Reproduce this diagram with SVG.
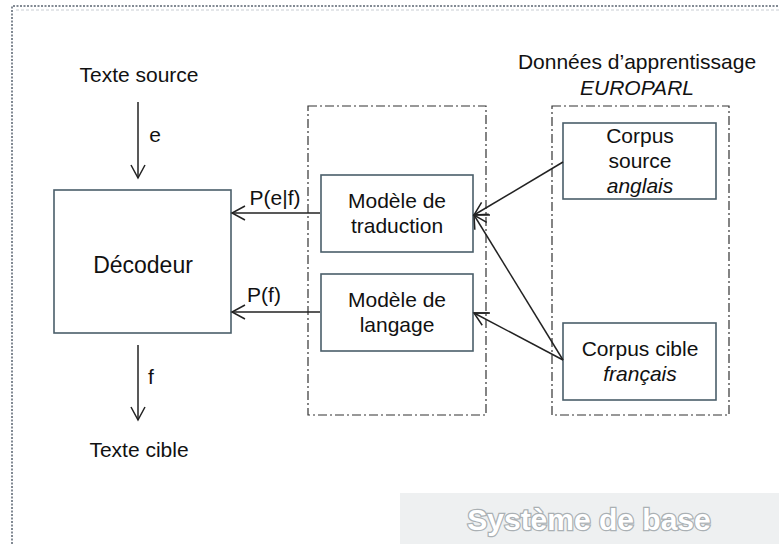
<svg xmlns="http://www.w3.org/2000/svg" width="779" height="544" viewBox="0 0 779 544">
<defs>
<style>
text{font-family:"Liberation Sans",Arial,sans-serif;fill:#111;font-size:21px;text-anchor:middle}
.it{font-style:italic}
.big{font-size:23px}
.title{font-size:30px;font-weight:bold;fill:#fff;stroke:#aab0b4;stroke-width:2.5px;paint-order:stroke}
.box{fill:#fff;stroke:#4a5e6a;stroke-width:1.6}
.grp{fill:none;stroke:#333;stroke-width:1.2;stroke-dasharray:9,3,2,3}
.ln{fill:none;stroke:#222;stroke-width:1.5}
</style>
<marker id="ah" viewBox="-14 -8 16 16" refX="0" refY="0" markerWidth="16" markerHeight="16" markerUnits="userSpaceOnUse" orient="auto">
<path d="M-13,-7 L0,0 L-13,7" fill="none" stroke="#222" stroke-width="1.5"/>
</marker>
</defs>
<rect width="779" height="544" fill="#fff"/>
<path d="M12,544 V6 H779" fill="none" stroke="#5a6470" stroke-width="1.5" stroke-dasharray="2,1.5"/>
<path d="M16,10 H779" fill="none" stroke="#c9ced3" stroke-width="1" stroke-dasharray="3,2"/>

<g id="texte-source"><text x="139" y="82">Texte source</text></g>
<g id="texte-cible"><text x="139" y="457">Texte cible</text></g>
<g id="donnees"><text x="637" y="69">Données d’apprentissage</text><text class="it" x="637" y="95">EUROPARL</text></g>

<g id="groupe-modeles"><rect class="grp" x="308" y="106" width="178" height="309"/></g>
<g id="groupe-corpus"><rect class="grp" x="552" y="106" width="177" height="309"/></g>

<g id="decodeur"><rect class="box" x="54" y="190" width="177" height="143"/><text class="big" x="143" y="273">Décodeur</text></g>
<g id="modele-traduction"><rect class="box" x="321" y="175" width="152" height="77"/><text x="397" y="208">Modèle de</text><text x="397" y="233">traduction</text></g>
<g id="modele-langage"><rect class="box" x="321" y="274" width="152" height="77"/><text x="397" y="307">Modèle de</text><text x="397" y="332">langage</text></g>
<g id="corpus-source"><rect class="box" x="563" y="123" width="153" height="76"/><text x="640" y="143">Corpus</text><text x="640" y="168">source</text><text class="it" x="640" y="193">anglais</text></g>
<g id="corpus-cible"><rect class="box" x="563" y="323" width="153" height="77"/><text x="640" y="356">Corpus cible</text><text class="it" x="640" y="381">français</text></g>

<g id="connecteurs">
<path class="ln" d="M138,102 V178" marker-end="url(#ah)"/>
<text x="155" y="142">e</text>
<path class="ln" d="M320,213 H232" marker-end="url(#ah)"/>
<text x="275" y="205">P(e|f)</text>
<path class="ln" d="M320,312 H232" marker-end="url(#ah)"/>
<text x="264" y="302">P(f)</text>
<path class="ln" d="M138,345 V420" marker-end="url(#ah)"/>
<text x="151" y="384">f</text>
<path class="ln" d="M563,162 L474,215" marker-end="url(#ah)"/>
<path class="ln" d="M563,360 L474,215" marker-end="url(#ah)"/>
<path class="ln" d="M563,360 L474,313" marker-end="url(#ah)"/>
<path class="ln" d="M474,215 H490 M474,313 H490"/>
</g>

<g id="systeme-de-base">
<rect x="400" y="493" width="379" height="51" fill="#eef0f1"/>
<text class="title" x="589" y="530">Système de base</text>
</g>
</svg>
